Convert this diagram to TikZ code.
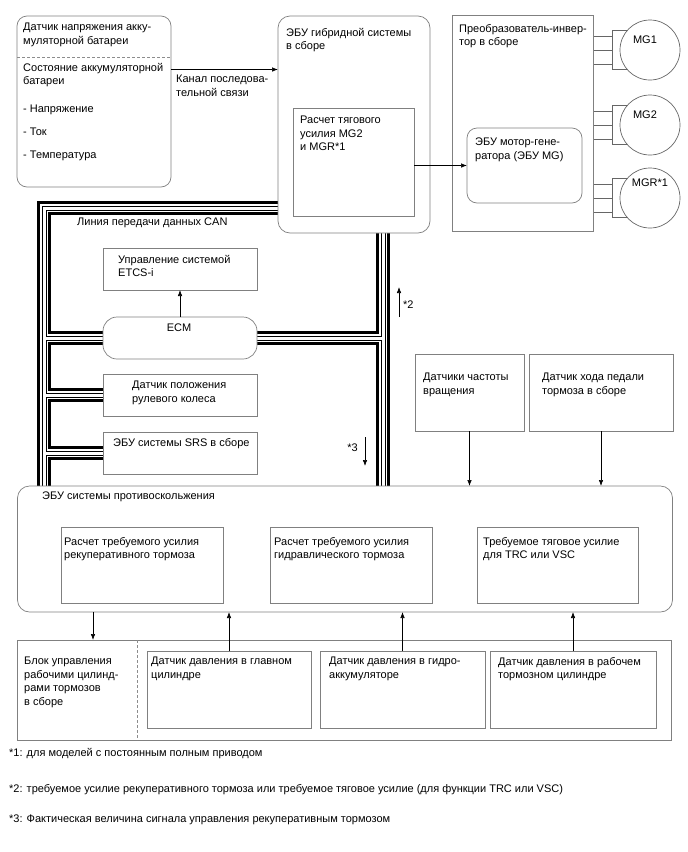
\documentclass[tikz,border=0pt]{standalone}
\usepackage{fontspec}
\setmainfont{Liberation Sans}
\usetikzlibrary{arrows.meta,backgrounds}

\begin{document}
\begin{tikzpicture}[x=1pt, y=-1pt,
  blk/.style={draw=black!50, line width=0.7pt, fill=white, inner sep=0pt, outer sep=0pt},
  rblk/.style={blk, rounded corners=10pt},
  txt/.style={anchor=north west, align=left, inner sep=0pt, font=\fontsize{11pt}{13.5pt}\selectfont},
  arr/.style={-{Latex[length=6pt,width=4.5pt]}, line width=0.6pt},
  sep/.style={draw=black!45, line width=0.6pt, dash pattern=on 3pt off 2pt},
  wire/.style={draw=black!60, line width=0.7pt},
  motor/.style={circle, draw=black!60, line width=0.7pt, fill=white, minimum size=60pt, inner sep=0pt}
]
\useasboundingbox (0,0) rectangle (688,852);

% battery sensor and hybrid ECU
\node[rblk, minimum width=154pt, minimum height=171pt] (batt) at (94,101.5) {};
\node[txt] (battT) at (23,23) {Датчик напряжения акку-\\муляторной батареи};
\draw[sep] (batt.west |- 0,57) -- (batt.east |- 0,57);
\node[txt] (battS) at (23,63) {Состояние аккумуляторной\\батареи\\[14pt]- Напряжение\\[9.5pt]- Ток\\[9.5pt]- Температура};

\node[rblk, rounded corners=12pt, minimum width=152pt, minimum height=217pt] (hyb) at (354,124.5) {};
\node[txt] (hybT) at (286,28) {ЭБУ гибридной системы\\в сборе};
\node[blk, minimum width=121pt, minimum height=108pt] (calc) at (353.5,162) {};
\node[txt] (calcT) at (300,116) {Расчет тягового\\усилия MG2\\и MGR*1};

\coordinate (serial) at ([yshift=32pt]batt.east);
\draw[arr] (serial) -- (serial -| hyb.west);
\node[txt] (serialT) at (176,75) {Канал последова-\\тельной связи};

% inverter and motors
\node[blk, minimum width=141pt, minimum height=216pt] (inv) at (522.5,123) {};
\node[txt] (invT) at (459,24) {Преобразователь-инвер-\\тор в сборе};
\node[rblk, minimum width=115pt, minimum height=75pt] (mgecu) at (524.5,165.5) {};
\node[txt] (mgecuT) at (475,138) {ЭБУ мотор-гене-\\ратора (ЭБУ MG)};
\draw[arr] (mgecu.west -| calc.east) -- (mgecu.west);

\foreach \m/\c/\t/\dx/\dy in {mg1/50/MG1/-5/10, mg2/125/MG2/-5/10, mgr/198/MGR*1/0/15} {
  \node[motor] (\m) at (650,\c) {};
  \node[inner sep=0pt, font=\fontsize{11pt}{13pt}\selectfont] (\m-t) at ([xshift=\dx pt,yshift=\dy pt]\m.center) {\t};
  \begin{pgfonlayer}{background}
    \foreach \d in {-14,0,14}
      \draw[wire] (inv.east |- 0,\c+\d) -- ++(19,0);
    \draw[wire] ([yshift=19.5pt]\m.center) -| ([xshift=-38pt,yshift=-19.5pt]\m.center) -- ([yshift=-19.5pt]\m.center);
  \end{pgfonlayer}
}

% CAN bus nodes
\node[txt] (canT) at (77,218) {Линия передачи данных CAN};
\node[blk, minimum width=154pt, minimum height=42pt] (etcs) at (180,269) {};
\node[txt] (etcsT) at (118,255) {Управление системой\\ETCS-i};
\node[rblk, rounded corners=14pt, minimum width=154pt, minimum height=42pt] (ecm) at (180,338) {};
\node[inner sep=0pt, font=\fontsize{11pt}{13pt}\selectfont] (ecmT) at (179,328) {ECM};
\draw[arr] (ecm.north) -- (etcs.south);
\node[blk, minimum width=154pt, minimum height=42pt] (steer) at (180,395) {};
\node[txt] (steerT) at (132,381) {Датчик положения\\рулевого колеса};
\node[blk, minimum width=154pt, minimum height=42pt] (srs) at (180,453) {};
\node[txt] (srsT) at (113,438) {ЭБУ системы SRS в сборе};

% sensors
\node[blk, minimum width=109pt, minimum height=77pt] (wheel) at (469.5,392.5) {};
\node[txt] (wheelT) at (423,373) {Датчики частоты\\вращения};
\node[blk, minimum width=144pt, minimum height=77pt] (pedal) at (601,392.5) {};
\node[txt] (pedalT) at (542,373) {Датчик хода педали\\тормоза в сборе};

% skid control ECU
\node[rblk, rounded corners=12pt, minimum width=655pt, minimum height=126pt] (skid) at (345,549) {};
\node[txt] (skidT) at (42,492) {ЭБУ системы противоскольжения};
\node[blk, minimum width=162pt, minimum height=76pt] (reg) at (142,565) {};
\node[txt] (regT) at (64,537) {Расчет требуемого усилия\\рекуперативного тормоза};
\node[blk, minimum width=162pt, minimum height=76pt] (hyd) at (351,565) {};
\node[txt] (hydT) at (274,537) {Расчет требуемого усилия\\гидравлического тормоза};
\node[blk, minimum width=161pt, minimum height=76pt] (trc) at (557.5,565) {};
\node[txt] (trcT) at (483,537) {Требуемое тяговое усилие\\для TRC или VSC};

\draw[arr] (wheel.south) -- (wheel.south |- skid.north);
\draw[arr] (pedal.south) -- (pedal.south |- skid.north);

\coordinate (canTL) at (44,208);
\coordinate (canR) at (383,338);
\coordinate (s2a) at (399,317);
\coordinate (s2b) at (399,287);
\draw[arr] (s2a) -- (s2b);
\node[txt, anchor=west] (s2T) at (403,305) {*2};
\coordinate (s3a) at (365,437);
\coordinate (s3b) at (365,466);
\draw[arr] (s3a) -- (s3b);
\node[txt, anchor=east] (s3T) at (358,448) {*3};

% brake actuator and pressure sensors
\node[blk, minimum width=653.5pt, minimum height=100pt] (act) at (344.25,690) {};
\draw[sep] (act.north -| 137,0) -- (act.south -| 137,0);
\node[txt] (actT) at (24,657) {Блок управления\\рабочими цилинд-\\рами тормозов\\в сборе};
\node[blk, minimum width=164pt, minimum height=77pt] (pmc) at (229,689.5) {};
\node[txt] (pmcT) at (151,657) {Датчик давления в главном\\цилиндре};
\node[blk, minimum width=165pt, minimum height=77pt] (pacc) at (402.5,689.5) {};
\node[txt] (paccT) at (329,657) {Датчик давления в гидро-\\аккумуляторе};
\node[blk, minimum width=166pt, minimum height=77pt] (pwc) at (573,689.5) {};
\node[txt] (pwcT) at (498,657) {Датчик давления в рабочем\\тормозном цилиндре};

\coordinate (actin) at (93,640);
\draw[arr] (skid.south -| actin) -- (actin);
\draw[arr] (pmc.north) -- (pmc.north |- skid.south);
\draw[arr] (pacc.north) -- (pacc.north |- skid.south);
\draw[arr] (pwc.north) -- (pwc.north |- skid.south);

% footnotes
\node[txt] (fn1) at (9,748) {*1: для моделей с постоянным полным приводом};
\node[txt] (fn2) at (9,784) {*2: требуемое усилие рекуперативного тормоза или требуемое тяговое усилие (для функции TRC или VSC)};
\node[txt] (fn3) at (9,815) {*3: Фактическая величина сигнала управления рекуперативным тормозом};

% CAN bus lines
\begin{pgfonlayer}{background}
  \foreach \w/\c in {14pt/black, 8pt/white, 5pt/black, 3pt/white}
    \draw[line width=\w, \c] (canTL -| hyb.west) -- (canTL) -- (canTL |- skid.north)
      (hyb.south -| canR) -- (skid.north -| canR)
      (ecm.west) -- (ecm.west -| canTL)
      (ecm.east) -- (ecm.east -| canR)
      (steer.west) -- (steer.west -| canTL)
      (srs.west) -- (srs.west -| canTL);
\end{pgfonlayer}
\end{tikzpicture}
\end{document}
